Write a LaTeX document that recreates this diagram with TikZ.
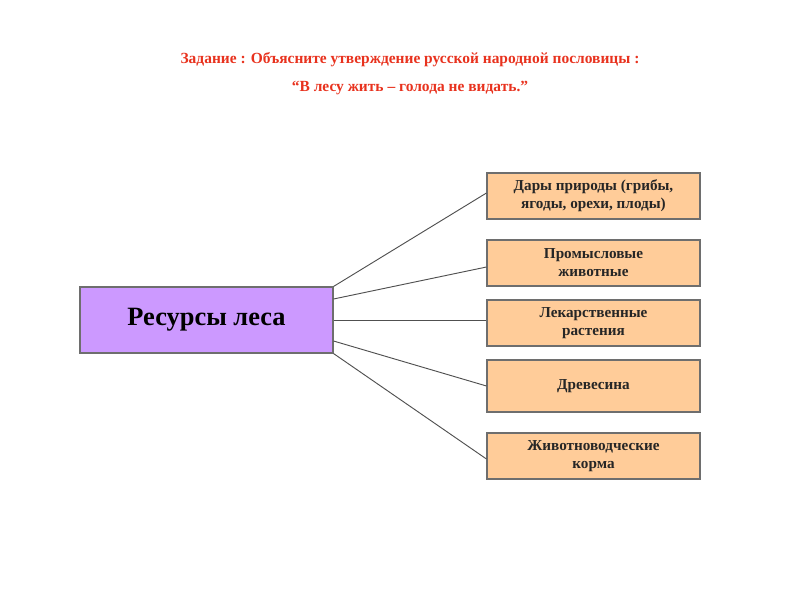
\documentclass[tikz,border=0pt]{standalone}
\usepackage{fontspec}
\setmainfont{Liberation Serif}
\usetikzlibrary{calc}
\definecolor{titlered}{HTML}{E8321E}
\definecolor{purplefill}{HTML}{CC99FF}
\definecolor{orangefill}{HTML}{FFCC99}
\definecolor{edgegray}{HTML}{6E6E6E}
\definecolor{linegray}{HTML}{505050}
\begin{document}
\begin{tikzpicture}[x=0.75pt,y=-0.75pt,
  mainbox/.style={draw=edgegray, fill=purplefill, line width=0.8pt, minimum width=253*0.75pt, minimum height=66*0.75pt, font=\fontsize{19.8}{22}\selectfont\bfseries, inner sep=0pt},
  itembox/.style={draw=edgegray, fill=orangefill, line width=0.8pt, minimum width=213*0.75pt, minimum height=46*0.75pt, font=\fontsize{11.4}{13.5}\selectfont\bfseries, align=center, inner sep=0pt, text=black!85},
  conn/.style={draw=linegray, line width=0.7pt},
  titletext/.style={text=titlered, font=\fontsize{11.6}{13}\selectfont\bfseries}
]
\useasboundingbox (0,0) rectangle (800,600);
\node[titletext] (t1) at (410,60) {Задание : Объясните утверждение русской народной пословицы :};
\node[titletext] (t2) at (410,88) {“В лесу жить – голода не видать.”};
\node[mainbox] (main) at (206.5,320) {Ресурсы леса};
\node[itembox] (b1) at (593.5,196) {Дары природы (грибы,\\ягоды, орехи, плоды)};
\node[itembox] (b2) at (593.5,263) {Промысловые\\животные};
\node[itembox] (b3) at (593.5,323) {Лекарственные\\растения};
\node[itembox, minimum height=52*0.75pt] (b4) at (593.5,386) {Древесина};
\node[itembox] (b5) at (593.5,456) {Животноводческие\\корма};
\coordinate (s1) at (main.north east);
\coordinate (s2) at ($(main.east)+(0,-21)$);
\coordinate (s3) at (main.east);
\coordinate (s4) at ($(main.east)+(0,21)$);
\coordinate (s5) at (main.south east);
\draw[conn] (s1) -- ($(b1.west)+(0,-3)$);
\draw[conn] (s2) -- ($(b2.west)+(0,4)$);
\draw[conn] (s3) -- ($(b3.west)+(0,-3)$);
\draw[conn] (s4) -- (b4.west);
\draw[conn] (s5) -- ($(b5.west)+(0,3)$);
\end{tikzpicture}
\end{document}
